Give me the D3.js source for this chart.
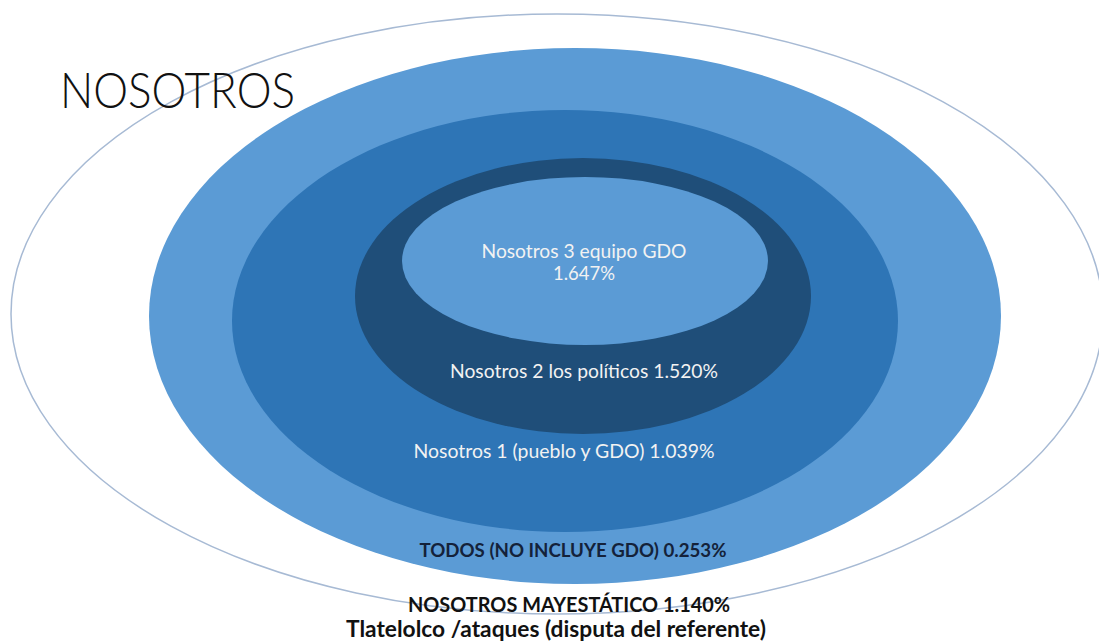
<!DOCTYPE html>
<html>
<head>
<meta charset="utf-8">
<script src="https://cdn.jsdelivr.net/npm/d3@7"></script>
<style>
  html, body { margin: 0; padding: 0; background: #fff; }
  svg { display: block; }
</style>
</head>
<body>
<div id="chart"></div>
<script>

// categories, outermost first
const levels = ["NOSOTROS MAYESTÁTICO", "TODOS (NO INCLUYE GDO)", "Nosotros 1 (pueblo y GDO)", "Nosotros 2 los políticos", "Nosotros 3 equipo GDO"];
const shares = [1.140, 0.253, 1.039, 1.520, 1.647];
const title = "NOSOTROS";
const note = "Tlatelolco /ataques (disputa del referente)";

let width = 1099;
let height = 643;

let fmt = d3.format(".3f");

// ring geometry (layout only), outermost first
const rings = [
  {cx: 557, cy: 314, rx: 546, ry: 300, fill: "#ffffff", stroke: "#a7bad4"},
  {cx: 575, cy: 316, rx: 426, ry: 268, fill: "#5b9bd5", stroke: "none"},
  {cx: 565, cy: 321, rx: 333, ry: 211, fill: "#2e75b6", stroke: "none"},
  {cx: 583, cy: 296, rx: 228, ry: 138, fill: "#1f4e79", stroke: "none"},
  {cx: 585, cy: 261, rx: 183, ry: 84,  fill: "#5b9bd5", stroke: "none"}
];

// label placement (layout only)
const labelPos = [
  {x: 569, y: 612, size: 21, weight: 700, color: "#111", len: 322, len2: null},
  {x: 573, y: 557, size: 19, weight: 700, color: "#14223a", len: 307, len2: null},
  {x: 564, y: 458, size: 19, weight: 400, color: "#f2f2f2", len: 301, len2: null},
  {x: 584, y: 378, size: 19.5, weight: 400, color: "#f2f2f2", len: 268, len2: null},
  {x: 584, y: 258, size: 19, weight: 400, color: "#f2f2f2", len: 205, len2: 62}
];

let svg = d3.select("#chart").append("svg")
  .attr("width", width)
  .attr("height", height);

svg.selectAll(".ring")
  .data(rings)
  .join("ellipse")
  .attr("class", "ring")
  .attr("cx", d => d.cx)
  .attr("cy", d => d.cy)
  .attr("rx", d => d.rx)
  .attr("ry", d => d.ry)
  .style("fill", d => d.fill)
  .style("stroke", d => d.stroke)
  .style("stroke-width", 1.5);

// title
svg.append("text")
  .attr("x", 60)
  .attr("y", 108)
  .attr("textLength", 235)
  .attr("lengthAdjust", "spacingAndGlyphs")
  .style("font-family", "Lato, 'Open Sans', sans-serif")
  .style("font-weight", 300)
  .style("font-size", "50px")
  .style("fill", "#111")
  .text(title);

let labels = levels.map(function(name, i) {
  return {name: name, share: shares[i], pos: labelPos[i]};
});

// innermost ring has its value on a second line
labels.forEach(function(d, i) {
  let lines = i == labels.length - 1
    ? [d.name, fmt(d.share) + "%"]
    : [d.name + " " + fmt(d.share) + "%"];
  lines.forEach(function(line, j) {
    svg.append("text")
      .attr("x", d.pos.x)
      .attr("y", d.pos.y + j * 22)
      .attr("text-anchor", "middle")
      .attr("textLength", j == 0 ? d.pos.len : d.pos.len2)
      .attr("lengthAdjust", "spacingAndGlyphs")
      .style("font-family", "Lato, 'Open Sans', sans-serif")
      .style("font-weight", d.pos.weight)
      .style("font-size", d.pos.size + "px")
      .style("fill", d.pos.color)
      .text(line);
  });
});

svg.append("text")
  .attr("x", 556)
  .attr("y", 637)
  .attr("text-anchor", "middle")
  .attr("textLength", 420)
  .attr("lengthAdjust", "spacingAndGlyphs")
  .style("font-family", "Lato, 'Open Sans', sans-serif")
  .style("font-weight", 700)
  .style("font-size", "22px")
  .style("fill", "#111")
  .text(note);

</script>
</body>
</html>
